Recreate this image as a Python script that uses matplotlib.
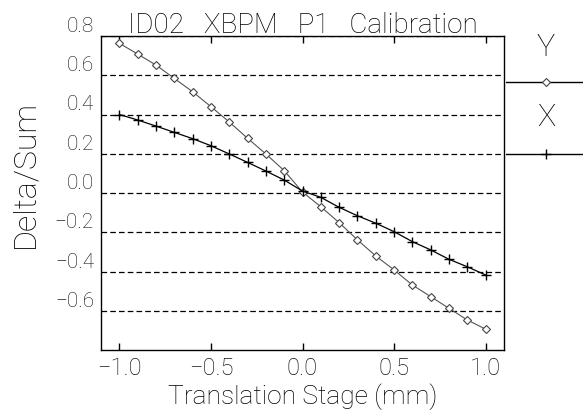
import matplotlib
matplotlib.use("Agg")
import matplotlib.pyplot as plt

plt.rcParams["font.family"] = ["Roboto", "DejaVu Sans"]
plt.rcParams["font.weight"] = "light"
plt.rcParams["axes.titleweight"] = "light"
plt.rcParams["axes.labelweight"] = "light"

# Data
stage_mm = [-1.0, -0.9, -0.8, -0.7, -0.6, -0.5, -0.4, -0.3, -0.2, -0.1, 0.0,
            0.1, 0.2, 0.3, 0.4, 0.5, 0.6, 0.7, 0.8, 0.9, 1.0]
y_ratio = [0.763, 0.708, 0.652, 0.584, 0.516, 0.440, 0.362, 0.279, 0.199, 0.114, 0.005,
           -0.070, -0.151, -0.239, -0.321, -0.392, -0.469, -0.528, -0.588, -0.647, -0.694]
x_ratio = [0.400, 0.372, 0.341, 0.309, 0.277, 0.241, 0.199, 0.156, 0.112, 0.066, 0.010,
           -0.022, -0.073, -0.116, -0.154, -0.197, -0.248, -0.290, -0.338, -0.376, -0.418]

x_ticks = [-1.0, -0.5, 0.0, 0.5, 1.0]
y_ticks = [-0.6, -0.4, -0.2, 0.0, 0.2, 0.4, 0.6, 0.8]

W, H = 583, 416
fig = plt.figure(figsize=(W / 100, H / 100), dpi=100)
ax = fig.add_axes([101 / W, 66 / H, 403 / W, 314 / H])

ax.plot(stage_mm, y_ratio, color="#555555", lw=0.8, marker="D", markersize=4,
        markerfacecolor="white", markeredgecolor="#444444", markeredgewidth=0.8)
ax.plot(stage_mm, x_ratio, color="black", lw=0.9, marker="+", markersize=7,
        markeredgewidth=1.0)

ax.set_xlim(-1.1, 1.1)
ax.set_ylim(-0.8, 0.8)
ax.set_xticks(x_ticks)
ax.set_xticklabels([f"{v:.1f}".replace("-", "\u2212") for v in x_ticks])
ax.set_yticks(y_ticks)
ax.set_yticklabels([f"{v:.1f}".replace("-", "\u2212") for v in y_ticks])

ax.tick_params(axis="x", direction="in", top=True, length=5, width=1,
               labelsize=17, pad=5, labelcolor="#111111")
ax.tick_params(axis="y", length=0, labelsize=15, pad=5, labelcolor="#111111")
for lab in ax.get_yticklabels():
    lab.set_va("bottom")

ax.grid(axis="y", color="black", lw=0.9, linestyle=(0, (4.5, 2.5)))
for s in ax.spines.values():
    s.set_linewidth(1.0)

ax.set_title("ID02   XBPM   P1   Calibration", fontsize=20, pad=2)
ax.set_xlabel("Translation Stage (mm)", fontsize=19)
ax.xaxis.set_label_coords(0.5, -0.105)
fig.text(25 / W, 1 - 174 / H, "Delta/Sum", rotation=90, fontsize=23,
         ha="center", va="center")

# legend panel on the right
lg = fig.add_axes([506 / W, 0, 77 / W, 1])
lg.set_xlim(0, 1)
lg.set_ylim(1, 0)
lg.axis("off")
lg.text(0.52, 47 / H, "Y", fontsize=22, ha="center", va="center")
lg.plot([0, 1], [82 / H, 82 / H], color="black", lw=1.0)
lg.plot([0.52], [82 / H], marker="D", markersize=4, color="#444444",
        markerfacecolor="white", markeredgewidth=0.8)
lg.text(0.52, 118 / H, "X", fontsize=22, ha="center", va="center")
lg.plot([0, 1], [154 / H, 154 / H], color="black", lw=1.0)
lg.plot([0.52], [154 / H], marker="+", markersize=7, color="black",
        markeredgewidth=1.0)

fig.savefig("out.png", dpi=100)
